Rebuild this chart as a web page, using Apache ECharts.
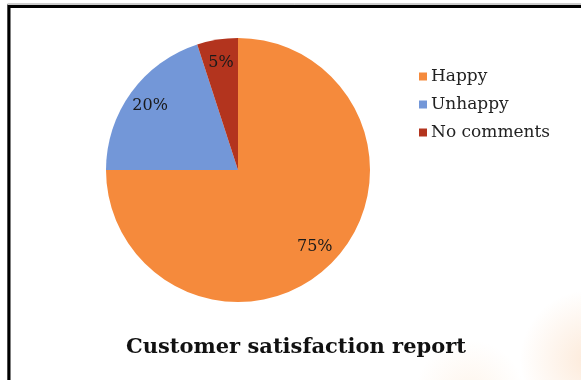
<!DOCTYPE html>
<html>
<head>
<meta charset="utf-8">
<script src="https://cdn.jsdelivr.net/npm/echarts@6/dist/echarts.min.js"></script>
<style>
  html, body { margin: 0; padding: 0; background: #ffffff; }
  #chart { width: 581px; height: 380px; }
</style>
</head>
<body>
<div id="chart"></div>
<script>
// Survey answers and their shares (percent)
const categories = ['Happy', 'Unhappy', 'No comments'];
const shares = [75, 20, 5];
const sliceColors = ['#F58A3C', '#7397D8', '#B3341E'];
const chartTitle = 'Customer satisfaction report';

const serif = '"DejaVu Serif", "Liberation Serif", serif';
const pieData = categories.map((name, i) => ({ name, value: shares[i] }));

const chart = echarts.init(document.getElementById('chart'), null, { renderer: 'canvas' });

const R = 132;
const C = [238, 170];

chart.setOption({
  backgroundColor: '#ffffff',
  animation: false,
  color: sliceColors,
  title: {
    text: chartTitle,
    left: 291,
    top: 332,
    textAlign: 'center',
    textStyle: { fontFamily: serif, fontWeight: 'bold', fontSize: 21, color: '#111' }
  },
  legend: {
    orient: 'vertical',
    left: 414,
    top: 63,
    icon: 'rect',
    itemWidth: 8,
    itemHeight: 8,
    itemGap: 11,
    data: categories,
    textStyle: { fontFamily: serif, fontSize: 17, color: '#222', padding: [0, 0, 0, -1] }
  },
  graphic: [
    // soft warm glow in the lower-right corner of the backdrop
    {
      type: 'circle', silent: true, z: -10,
      shape: { cx: 590, cy: 360, r: 70 },
      style: {
        fill: {
          type: 'radial', x: 0.5, y: 0.5, r: 0.5,
          colorStops: [
            { offset: 0, color: 'rgba(247,185,130,0.3)' },
            { offset: 1, color: 'rgba(247,185,130,0)' }
          ]
        }
      }
    },
    {
      type: 'circle', silent: true, z: -10,
      shape: { cx: 470, cy: 395, r: 55 },
      style: {
        fill: {
          type: 'radial', x: 0.5, y: 0.5, r: 0.5,
          colorStops: [
            { offset: 0, color: 'rgba(250,205,160,0.2)' },
            { offset: 1, color: 'rgba(250,205,160,0)' }
          ]
        }
      }
    },
    // frame around the slide
    {
      type: 'polyline', silent: true, z: 10,
      shape: { points: [[7.5, 380], [7.5, 4], [581, 4]] },
      style: { stroke: '#9a9a9a', lineWidth: 1, fill: null }
    },
    {
      type: 'polyline', silent: true, z: 11,
      shape: { points: [[9, 380], [9, 6.5], [581, 6.5]] },
      style: { stroke: '#000', lineWidth: 3, fill: null }
    }
  ],
  series: [
    {
      type: 'pie',
      center: C,
      radius: [0, R],
      startAngle: 90,
      clockwise: true,
      data: pieData,
      label: { show: false },
      labelLine: { show: false },
      itemStyle: { borderWidth: 0 },
      emphasis: { disabled: true }
    },
    {
      // invisible ring that carries the percentage labels out toward the rim
      type: 'pie',
      center: C,
      radius: [R * 0.6, R],
      startAngle: 90,
      clockwise: true,
      data: pieData,
      silent: true,
      z: 3,
      itemStyle: { color: 'rgba(0,0,0,0)', borderWidth: 0 },
      label: {
        show: true,
        position: 'inside',
        formatter: '{c}%',
        fontFamily: serif,
        fontSize: 16,
        color: '#1a1a1a'
      },
      labelLine: { show: false },
      emphasis: { disabled: true }
    }
  ]
});
</script>
</body>
</html>
